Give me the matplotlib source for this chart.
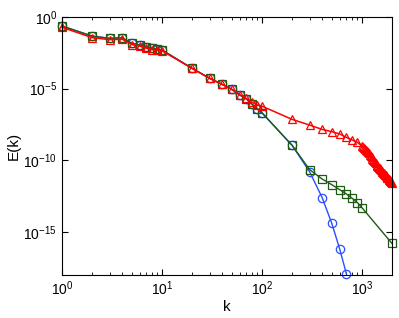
import numpy as np
import matplotlib
matplotlib.use("Agg")
import matplotlib.pyplot as plt
from matplotlib.ticker import FixedLocator, LogLocator, NullLocator

plt.rcParams['font.family'] = ['Liberation Sans', 'DejaVu Sans']
plt.rcParams['mathtext.fontset'] = 'custom'
plt.rcParams['mathtext.rm'] = 'Liberation Sans'

# k values where markers sit
k_low = [1, 2, 3, 4, 5, 6, 7, 8, 9, 10, 20, 30, 40, 50, 60, 70, 80, 90, 100]
k_mid = [200, 300, 400, 500, 600, 700, 800, 900, 1000]

# log10 E(k)
blue_k = k_low + [200, 300, 400, 500, 600, 700]
blue_logE = [-0.63, -1.33, -1.49, -1.45, -1.84, -1.95, -2.10, -2.19, -2.23, -2.30,
             -3.58, -4.28, -4.70, -5.05, -5.44, -5.72, -6.10, -6.40, -6.68,
             -8.95, -10.80, -12.60, -14.40, -16.20, -17.93]

green_k = k_low + k_mid + [2000]
green_logE = [-0.63, -1.33, -1.49, -1.45, -1.84, -1.95, -2.10, -2.19, -2.23, -2.30,
              -3.58, -4.28, -4.70, -5.05, -5.44, -5.72, -6.10, -6.40, -6.68,
              -8.95, -10.65, -11.30, -11.70, -12.05, -12.35, -12.65, -12.95, -13.30,
              -15.80]

red_k = k_low + k_mid[:-1] + list(range(1000, 2001, 25))
red_logE = [-0.72, -1.44, -1.58, -1.55, -1.92, -2.03, -2.18, -2.27, -2.31, -2.36,
            -3.58, -4.28, -4.70, -5.05, -5.42, -5.68, -5.96, -6.14, -6.22,
            -7.14, -7.54, -7.84, -8.00, -8.16, -8.40, -8.58, -8.74,
            -9.00, -9.06, -9.12, -9.18, -9.25, -9.32, -9.40, -9.50, -9.60, -9.70,
            -9.80, -9.90, -10.00, -10.08, -10.15, -10.22, -10.30, -10.37, -10.43, -10.50,
            -10.56, -10.62, -10.68, -10.74, -10.80, -10.85, -10.90, -10.95, -11.00, -11.05,
            -11.10, -11.15, -11.20, -11.25, -11.30, -11.35, -11.40, -11.44, -11.48, -11.52,
            -11.56]

fig = plt.figure(figsize=(3.99, 3.18), dpi=100)
ax = fig.add_axes([0.1554, 0.1352, 0.8271, 0.8113])

ax.loglog(blue_k, 10.0 ** np.array(blue_logE), '-o', color='#2a4dff', lw=1.0,
          ms=6, mfc='none', mew=0.9, clip_on=False)
ax.loglog(green_k, 10.0 ** np.array(green_logE), '-s', color='#1e5a14', lw=1.0,
          ms=5.5, mfc='none', mew=0.9, clip_on=False)
ax.loglog(red_k, 10.0 ** np.array(red_logE), '-^', color='#ff0000', lw=1.1,
          ms=6, mfc='none', mew=0.9, clip_on=False)

ax.set_xlim(1, 2000)
ax.set_ylim(1e-18, 1)
ax.yaxis.set_major_locator(FixedLocator([1e-15, 1e-10, 1e-5, 1e0]))
ax.yaxis.set_minor_locator(NullLocator())
ax.xaxis.set_major_locator(LogLocator(base=10, numticks=10))
ax.xaxis.set_minor_locator(LogLocator(base=10, subs=np.arange(2, 10), numticks=10))
ax.tick_params(which='both', direction='in', top=True, right=True, labelsize=10)
ax.tick_params(which='major', length=4)
ax.tick_params(which='minor', length=2)

ax.set_xlabel('k', fontsize=11, labelpad=1)
ax.set_ylabel('E(k)', fontsize=11, labelpad=2)

fig.savefig('out.png', dpi=100)
